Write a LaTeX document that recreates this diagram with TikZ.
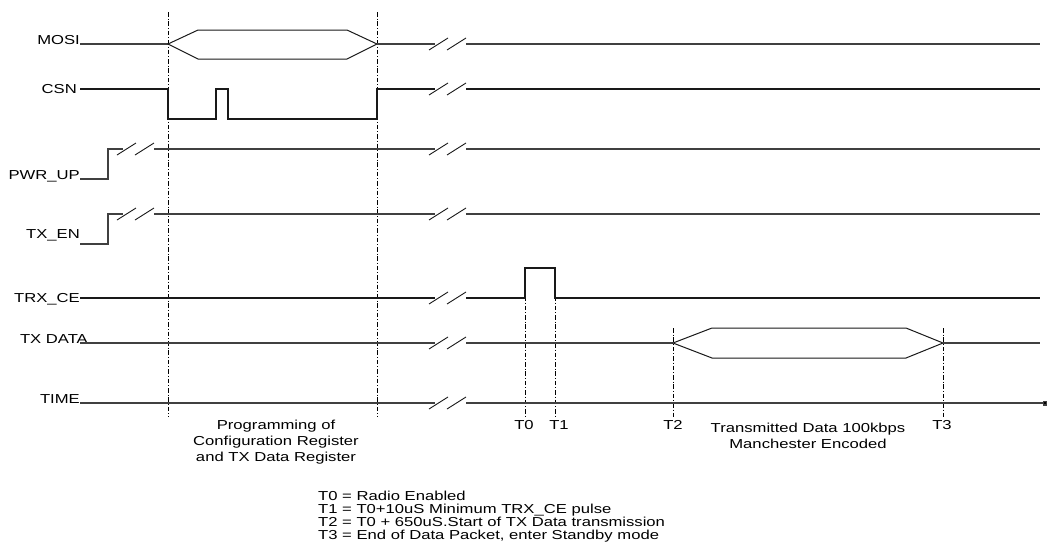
\documentclass[tikz,border=0pt]{standalone}
\usepackage{fontspec}
\setmainfont{Liberation Sans}[FakeStretch=1.28]
\usetikzlibrary{arrows.meta}
\newcommand\midbrk[1]{%
  \draw[brk] (429,#1+6) -- (448,#1-6);
  \draw[brk] (447,#1+6) -- (466,#1-6);}
\newcommand\leftbrk[1]{%
  \draw[brk] (117,#1+6) -- (136,#1-6);
  \draw[brk] (135,#1+6) -- (154,#1-6);}
\begin{document}
\begin{tikzpicture}[x=1pt,y=-1pt,
  sig/.style={draw=black!75,line width=1.1pt,line join=miter},
  hexa/.style={draw=black!90,line width=1pt},
  brk/.style={draw=black!90,line width=0.9pt},
  guide/.style={draw=black,line width=0.8pt,dash pattern=on 4.5pt off 2pt on 0.9pt off 2pt},
  lbl/.style={font=\fontsize{13}{13}\selectfont,inner sep=0pt,text=black}]
\useasboundingbox (0,0) rectangle (1051,550);
% labels
\node[lbl,anchor=base east] (lmosi) at (80,44) {MOSI};
\node[lbl,anchor=base east] (lcsn) at (77,93.5) {CSN};
\node[lbl,anchor=base east] (lpwr) at (80,179) {PWR\_UP};
\node[lbl,anchor=base east] (ltxen) at (80,238) {TX\_EN};
\node[lbl,anchor=base east] (ltrx) at (80,302) {TRX\_CE};
\node[lbl,anchor=base east] (ltxd) at (88,343) {TX DATA};
\node[lbl,anchor=base east] (ltime) at (80,403) {TIME};
% guides
\draw[guide] (168,12) -- (168,417);
\draw[guide] (377,12) -- (377,417);
\draw[guide] (525,268) -- (525,417);
\draw[guide] (555,268) -- (555,417);
\draw[guide] (673,328) -- (673,417);
\draw[guide] (943,328) -- (943,417);
% MOSI
\draw[sig] (80,44) -- (168,44);
\draw[hexa] (168,44) -- (198,30) -- (347,30) -- (377,44) -- (347,59) -- (198,59) -- cycle;
\draw[sig] (377,44) -- (435,44);
\midbrk{44}
\draw[sig] (466,44) -- (1040,44);
% CSN
\draw[sig,draw=black!90] (80,89) -- (168,89) -- (168,119) -- (216,119) -- (216,89) -- (228,89) -- (228,119) -- (377,119) -- (377,89) -- (435,89);
\midbrk{89}
\draw[sig,draw=black!90] (466,89) -- (1040,89);
% PWR_UP
\draw[sig] (80,179) -- (108,179) -- (108,149) -- (123,149);
\leftbrk{149}
\draw[sig] (154,149) -- (435,149);
\midbrk{149}
\draw[sig] (466,149) -- (1040,149);
% TX_EN
\draw[sig] (80,244) -- (108,244) -- (108,214) -- (123,214);
\leftbrk{214}
\draw[sig] (154,214) -- (435,214);
\midbrk{214}
\draw[sig] (466,214) -- (1040,214);
% TRX_CE
\draw[sig,draw=black!90] (80,298) -- (435,298);
\midbrk{298}
\draw[sig,draw=black!90] (466,298) -- (525,298) -- (525,268) -- (555,268) -- (555,298) -- (1040,298);
% TX DATA
\draw[sig] (80,343) -- (435,343);
\midbrk{343}
\draw[sig] (466,343) -- (673,343);
\draw[hexa] (673,343) -- (712,328) -- (906,328) -- (943,343) -- (906,358) -- (712,358) -- cycle;
\draw[sig] (943,343) -- (1040,343);
% TIME
\draw[sig] (80,403) -- (435,403);
\midbrk{403}
\draw[sig,-{Square[length=4.5pt,width=5pt,fill=black]}] (466,403) -- (1047,403);
% annotations
\node[lbl,anchor=base] (t0) at (524,429) {T0};
\node[lbl,anchor=base] (t1) at (559,429) {T1};
\node[lbl,anchor=base] (t2) at (673,429) {T2};
\node[lbl,anchor=base] (t3) at (942,429) {T3};
\node[lbl,anchor=base] (p1) at (276,429) {Programming of};
\node[lbl,anchor=base] (p2) at (276,445) {Configuration Register};
\node[lbl,anchor=base] (p3) at (276,461) {and TX Data Register};
\node[lbl,anchor=base] (m1) at (808,432) {Transmitted Data 100kbps};
\node[lbl,anchor=base] (m2) at (808,448) {Manchester Encoded};
\node[lbl,anchor=base west] (k0) at (318,500) {T0 = Radio Enabled};
\node[lbl,anchor=base west] (k1) at (318,513) {T1 = T0+10uS Minimum TRX\_CE pulse};
\node[lbl,anchor=base west] (k2) at (318,526) {T2 = T0 + 650uS.Start of TX Data transmission};
\node[lbl,anchor=base west] (k3) at (318,539) {T3 = End of Data Packet, enter Standby mode};
\end{tikzpicture}
\end{document}
